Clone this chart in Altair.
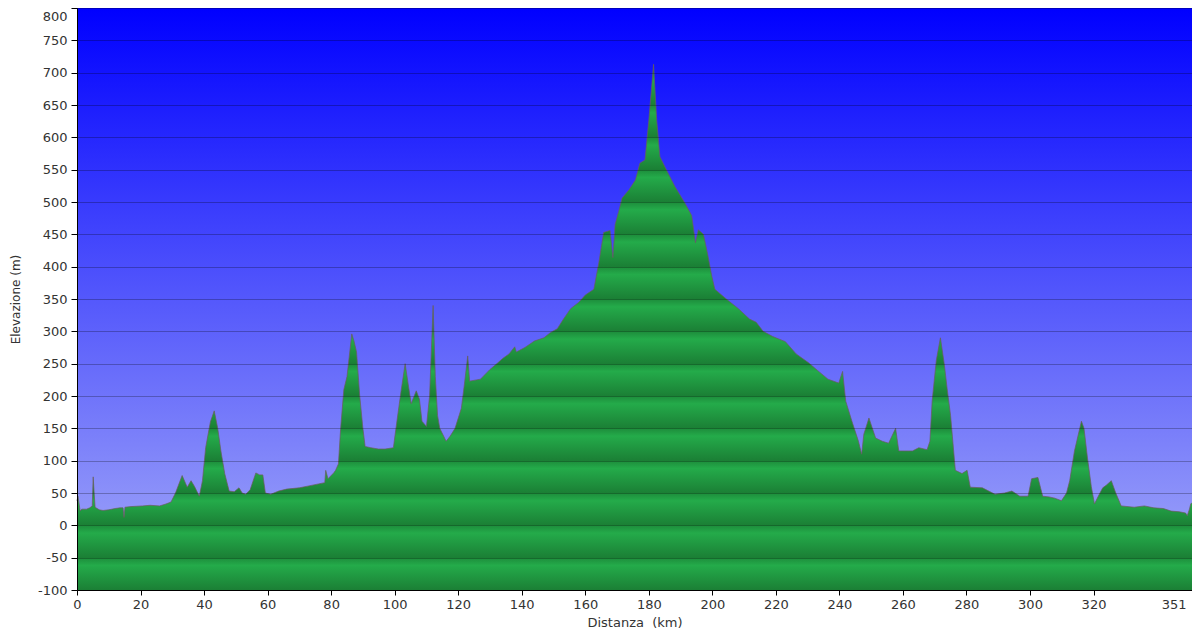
import altair as alt
import pandas as pd

# Elevation profile
km = [0, 0.3, 1.0, 1.5, 3, 4, 4.8, 5.1, 5.4, 5.7, 7, 8.2, 10, 12, 13.5, 14.5, 14.8, 15.1, 17, 20.6,
      23, 26, 28, 29.6, 31, 33.1, 34.7, 35.9, 37, 38.5, 39.5, 40.5, 42, 43.2, 44.3, 45.3, 46.5, 47.9, 49.5, 51,
      52, 53.1, 54.5, 56.3, 57.5, 58.5, 59.3, 61, 63.5, 66, 70, 73, 76, 78, 78.3, 79, 80.8, 81.4, 82.3, 83,
      84, 85, 86.5, 87.2, 88, 89, 90, 90.7, 92.5, 94.9, 97, 99.6, 100.6, 102, 103.3, 104.2, 105.2, 106.8, 107.8, 108.6,
      110, 111, 112.1, 112.8, 113.5, 114.2, 116.2, 117.5, 119, 121, 122, 123, 123.6, 127, 130, 132.4, 134, 136, 137.8, 138.3,
      141, 144, 147, 149, 151.2, 153, 155.4, 158, 160, 162.7, 164.3, 165.8, 167.8, 168.7, 169.4, 170.5, 171.6, 173.8, 175.8, 177.2,
      178.8, 180, 181.5, 182.5, 183.5, 185.6, 188.2, 191.3, 193.5, 194.7, 195.6, 197.2, 198.5, 199.8, 200.8, 204.4, 208.2, 211.7, 213.8, 216,
      219, 223, 226.4, 230.4, 233, 236.4, 239.8, 241, 242, 244, 246, 247, 247.7, 249.3, 251.4, 253.5, 255.5, 257.7, 258.7, 263,
      265, 267.6, 268.5, 269.2, 270.5, 271.8, 273, 273.9, 275, 276.5, 278.6, 280.2, 281.2, 285, 289, 292, 294.3, 296.8, 299.4, 300.5,
      302.5, 304, 306, 307.8, 309.9, 311.5, 312.5, 314, 316.2, 317, 318.1, 319.3, 320.3, 321.5, 322.9, 324, 325.6, 327, 328.7, 332.8,
      336, 339, 342, 344.4, 347, 349, 349.5, 350.2, 350.6, 351]
elev = [38, 45, 22, 25, 25, 27, 30, 75, 50, 28, 24, 23, 24, 26, 27, 27, 12, 28, 29, 30,
        31, 30, 33, 36, 50, 77, 59, 69, 60, 45, 69, 120, 160, 177, 150, 115, 80, 53, 52, 58,
        50, 48, 55, 81, 78, 78, 50, 48, 53, 56, 58, 61, 64, 66, 85, 72, 81, 85, 95, 150,
        210, 230, 296, 285, 268, 200, 150, 122, 120, 118, 118, 120, 157, 207, 250, 220, 188, 208, 195, 161,
        153, 200, 340, 230, 170, 150, 130, 138, 150, 181, 220, 262, 223, 226, 241, 251, 258, 265, 276, 268,
        275, 285, 290, 298, 304, 318, 335, 345, 356, 365, 407, 453, 456, 414, 465, 485, 506, 519, 534, 560,
        565, 626, 713, 626, 570, 549, 524, 499, 479, 437, 457, 450, 420, 386, 365, 350, 335, 319, 314, 300,
        292, 284, 265, 251, 240, 226, 220, 238, 192, 160, 130, 110, 141, 166, 135, 130, 127, 150, 115, 115,
        120, 117, 130, 192, 255, 290, 250, 212, 170, 85, 80, 85, 59, 58, 48, 50, 53, 45, 45, 72,
        74, 45, 44, 42, 38, 50, 69, 115, 161, 150, 104, 60, 33, 45, 58, 62, 69, 50, 30, 28,
        30, 27, 26, 22, 21, 19, 15, 25, 33, 35]

x_ticks = [0, 20, 40, 60, 80, 100, 120, 140, 160, 180, 200, 220, 240, 260, 280, 300, 320, 351]
y_ticks = list(range(-100, 801, 50))

df = pd.DataFrame({"km": km, "elev": elev})
df["base"] = -100
bgdf = pd.DataFrame({"x0": [0], "x1": [351], "y0": [-100], "y1": [800]})

FONT = "DejaVu Sans"

# green banded gradient (bands of 50 m) relative to area bounds
top = max(elev)
bottom = -100
span = top - bottom


def off(v):
    return (top - v) / span


stops = []
for u in range(800, -100, -50):
    l = u - 50
    for v, c in [(u, "#1d8c3b"), (u - 12, "#24ab4a"), (l, "#1b7f35")]:
        if bottom <= v <= top:
            stops.append((off(v), c))
stops = [(0.0, "#22a346")] + stops
green = alt.LinearGradient(
    gradient="linear", x1=0, y1=0, x2=0, y2=1,
    stops=[alt.GradientStop(offset=round(o, 5), color=c) for o, c in stops],
)
blue = alt.LinearGradient(
    gradient="linear", x1=0, y1=0, x2=0, y2=1,
    stops=[alt.GradientStop(offset=0, color="#0000ff"),
           alt.GradientStop(offset=0.5, color="#5458fc"),
           alt.GradientStop(offset=1, color="#a6acf8")],
)

xscale = alt.Scale(domain=[0, 351], nice=False, zero=False)
yscale = alt.Scale(domain=[-100, 800], nice=False, zero=False)

xaxis = alt.Axis(
    values=x_ticks, title="Distanza\u00a0\u00a0(km)", grid=False,
    labelFont=FONT, labelFontSize=13, labelColor="#333333",
    tickColor="#000000", domainColor="#000000", tickSize=5, labelPadding=3,
    titleFont=FONT, titleFontSize=13, titleFontWeight="normal", titleColor="#333333",
    titlePadding=5,
    labelAlign={"condition": {"test": "datum.value == 351", "value": "right"}, "value": "center"},
    labelOffset={"condition": {"test": "datum.value == 351", "value": -6}, "value": 0},
    labelFlush=False,
)
yaxis = alt.Axis(
    values=y_ticks, title="Elevazione (m)", grid=True,
    gridColor="#000000", gridOpacity=0.26, gridWidth=1,
    labelFont=FONT, labelFontSize=13, labelColor="#333333",
    labelExpr="'' + datum.value",
    tickColor="#000000", domainColor="#000000", tickSize=6, labelPadding=4,
    titleFont=FONT, titleFontSize=12, titleFontWeight="normal", titleColor="#333333",
    titlePadding=15, zindex=1,
    labelOffset={"condition": {"test": "datum.value == 800", "value": 8}, "value": 0},
)

bg = alt.Chart(bgdf).mark_rect(fill=blue).encode(
    x=alt.X("x0:Q", scale=xscale, axis=xaxis),
    x2="x1:Q",
    y=alt.Y("y0:Q", scale=yscale, axis=yaxis),
    y2="y1:Q",
)

area = alt.Chart(df).mark_area(fill=green, interpolate="linear").encode(
    x=alt.X("km:Q", scale=xscale, axis=xaxis),
    y=alt.Y("elev:Q", scale=yscale, axis=yaxis),
    y2="base:Q",
)

outline = alt.Chart(df).mark_line(color="#6a5c5c", strokeWidth=1, opacity=0.7, interpolate="linear").encode(
    x=alt.X("km:Q", scale=xscale, axis=xaxis),
    y=alt.Y("elev:Q", scale=yscale, axis=yaxis),
)

chart = alt.layer(bg, area, outline).properties(
    width=1115, height=582,
    autosize=alt.AutoSizeParams(type="none"),
    padding={"left": 69, "top": 0, "right": 0, "bottom": 42},
).configure_view(stroke=None)

chart.save("out.html", embed_options={"renderer": "svg", "actions": False})
